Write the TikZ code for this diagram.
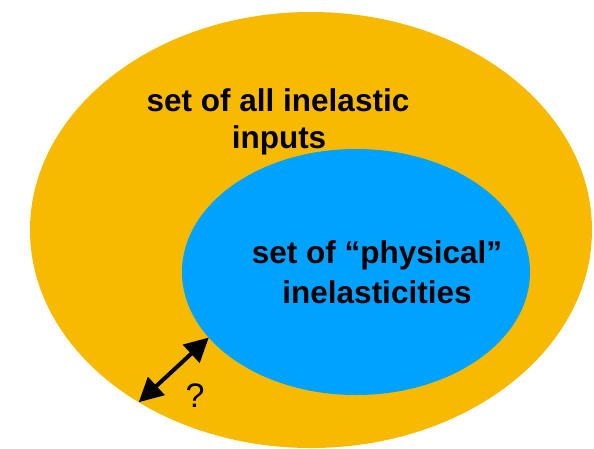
\documentclass[tikz,border=0pt]{standalone}
\usepackage{fontspec}
\setmainfont{Liberation Sans}
\usetikzlibrary{shapes.geometric,arrows.meta}
\definecolor{setorange}{HTML}{F7BA00}
\definecolor{setblue}{HTML}{00A2FF}
\tikzset{
  setshape/.style={ellipse, inner sep=0pt, outer sep=0pt, draw=none},
  settext/.style={anchor=base, inner sep=0pt, font=\fontsize{31.5}{36}\selectfont\bfseries},
  qtext/.style={anchor=base, inner sep=0pt, font=\fontsize{34}{40}\selectfont},
  gaparrow/.style={line width=4pt, {Triangle[length=24pt,width=24pt]}-{Triangle[length=24pt,width=24pt]}}
}
\begin{document}
\begin{tikzpicture}[x=1pt,y=-1pt]
\useasboundingbox (0,0) rectangle (594,448);
\node[setshape, fill=setorange, minimum width=562pt, minimum height=436pt] (outer) at (311,230) {};
\node[setshape, fill=setblue, minimum width=348pt, minimum height=246pt] (inner) at (356,272) {};
\node[settext] (t1) at (278,111) {set of all inelastic};
\node[settext] (t2) at (279,148) {inputs};
\node[settext] (t3) at (377,263) {set of “physical”};
\node[settext] (t4) at (377,303) {inelasticities};
\node[qtext] (q) at (195,407) {?};
\draw[gaparrow] (outer.225.8) -- (inner.204.4);
\end{tikzpicture}
\end{document}
